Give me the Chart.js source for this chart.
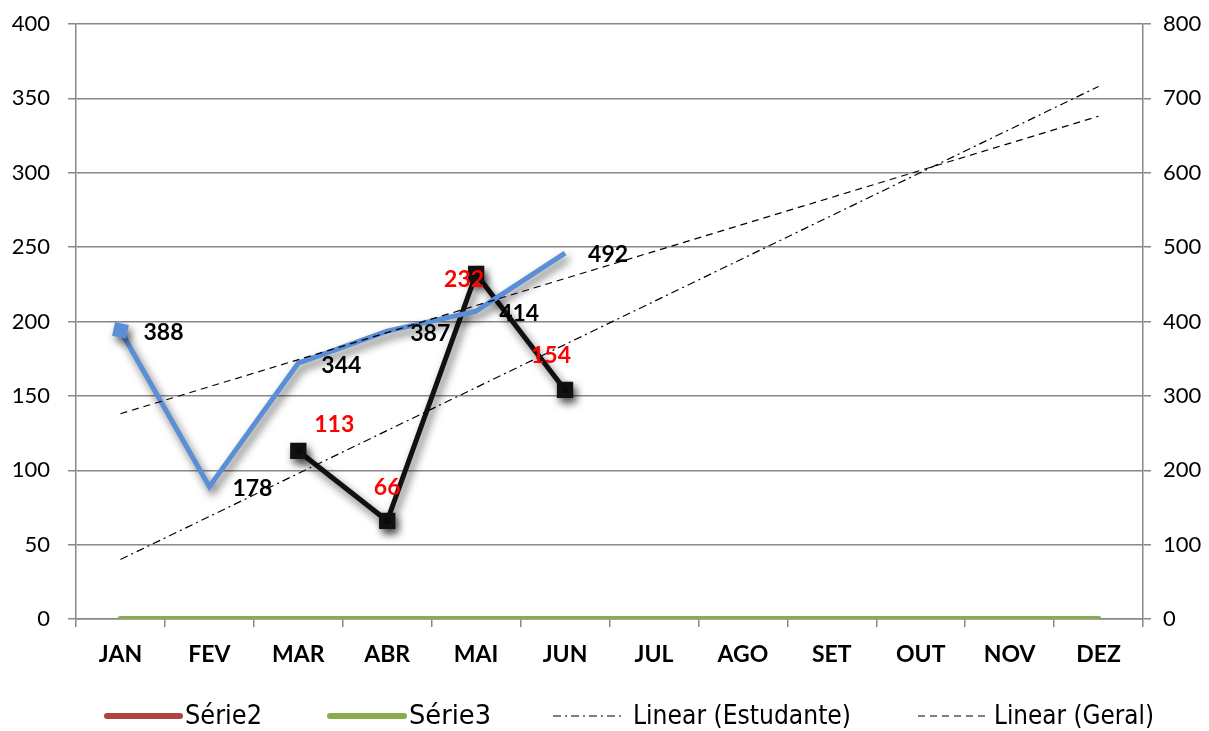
<!DOCTYPE html>
<html>
<head>
<meta charset="utf-8">
<script src="https://cdn.jsdelivr.net/npm/chart.js@4"></script>
<style>
    body { margin: 0; background: #fff; }
    .chart__wrapp { width: 1209px; height: 731px; }
</style>
</head>
<body>
<div class="chart__wrapp"><canvas id="grafic"></canvas></div>
<script>
var months = ['JAN', 'FEV', 'MAR', 'ABR', 'MAI', 'JUN', 'JUL', 'AGO', 'SET', 'OUT', 'NOV', 'DEZ'];
var geral = [388, 178, 344, 387, 414, 492, null, null, null, null, null, null];
var estudante = [null, null, 113, 66, 232, 154, null, null, null, null, null, null];
var serie2 = [0, 0, 0, 0, 0, 0, 0, 0, 0, 0, 0, 0];
var serie3 = [0, 0, 0, 0, 0, 0, 0, 0, 0, 0, 0, 0];
// trend lines, only the two ends
var trendEstudante = [40, null, null, null, null, null, null, null, null, null, null, 358];
var trendGeral = [276, null, null, null, null, null, null, null, null, null, null, 676];
var leftTicks = [0, 50, 100, 150, 200, 250, 300, 350, 400];
var rightTicks = [0, 100, 200, 300, 400, 500, 600, 700, 800];

var fontMain = 'Lato, "Open Sans", sans-serif';
var fontLegend = '"Liberation Sans Narrow", "DejaVu Sans Condensed", sans-serif';

// shadow under the two main lines
var shadowPlugin = {
    id: 'shadow',
    beforeDatasetDraw: function (chart, args) {
        var ds = chart.data.datasets[args.index];
        chart.ctx.save();
        if (ds.shadow) {
            chart.ctx.shadowColor = 'rgba(0,0,0,0.6)';
            chart.ctx.shadowBlur = 8;
            chart.ctx.shadowOffsetX = 3;
            chart.ctx.shadowOffsetY = 5;
        }
    },
    afterDatasetDraw: function (chart) {
        chart.ctx.restore();
    }
};

// value labels
var labelPlugin = {
    id: 'labels',
    afterDatasetsDraw: function (chart) {
        var ctx = chart.ctx;
        ctx.save();
        ctx.font = 'bold 23px ' + fontMain;
        ctx.textBaseline = 'middle';

        var metaG = chart.getDatasetMeta(0);
        ctx.fillStyle = '#000';
        ctx.textAlign = 'left';
        geral.forEach(function (v, i) {
            if (v === null) return;
            var p = metaG.data[i];
            ctx.fillText(v, p.x + 23, p.y + 2);
        });

        var metaE = chart.getDatasetMeta(1);
        var shift = [null, null, [36, -26], [0, -33], [-12, 6], [-14, -34]];
        ctx.fillStyle = '#ff0000';
        ctx.textAlign = 'center';
        estudante.forEach(function (v, i) {
            if (v === null) return;
            var p = metaE.data[i];
            ctx.fillText(v, p.x + shift[i][0], p.y + shift[i][1]);
        });
        ctx.restore();
    }
};

// legend at the bottom
var legendPlugin = {
    id: 'legendBottom',
    afterDraw: function (chart) {
        var ctx = chart.ctx;
        var y = 716;
        var items = [
            { text: 'Série2', color: '#b0423f', width: 6, dash: [], x1: 107, x2: 180, w: 77 },
            { text: 'Série3', color: '#8aab4d', width: 6, dash: [], x1: 330, x2: 404, w: 82 },
            { text: 'Linear (Estudante)', color: '#000', width: 1.2, dash: [8, 4, 2, 4], x1: 553, x2: 625, w: 218 },
            { text: 'Linear (Geral)', color: '#000', width: 1.2, dash: [7, 5], x1: 918, x2: 986, w: 160 }
        ];
        ctx.save();
        ctx.font = '26px ' + fontLegend;
        ctx.textBaseline = 'middle';
        ctx.textAlign = 'left';
        items.forEach(function (it) {
            ctx.beginPath();
            ctx.strokeStyle = it.color;
            ctx.lineWidth = it.width;
            ctx.lineCap = it.dash.length ? 'butt' : 'round';
            ctx.setLineDash(it.dash);
            ctx.moveTo(it.x1, y);
            ctx.lineTo(it.x2, y);
            ctx.stroke();
            ctx.setLineDash([]);
            // the legend text in the picture is a tall condensed face, so stretch it to its width
            var tx = it.x2 + (it.dash.length ? 8 : 5);
            var sx = it.w / ctx.measureText(it.text).width;
            ctx.save();
            ctx.translate(tx, y + 1);
            ctx.scale(sx, 1);
            ctx.fillStyle = '#000';
            ctx.fillText(it.text, 0, 0);
            ctx.restore();
        });
        ctx.restore();
    }
};

function fitY(width) {
    return function (scale) {
        scale.width = width;
        scale.paddingTop = 0;
        scale.paddingBottom = 0;
    };
}

var ctx = document.getElementById('grafic');
var myChart = new Chart(ctx, {
    type: 'line',
    data: {
        labels: months,
        datasets: [{
            label: 'Geral',
            data: geral,
            yAxisID: 'y2',
            borderColor: '#5a8ed6',
            backgroundColor: '#5a8ed6',
            borderWidth: 5,
            pointStyle: 'rect',
            pointRadius: [10, 0, 0, 0, 0, 0, 0, 0, 0, 0, 0, 0],
            pointBorderWidth: 0,
            pointRotation: 12,
            tension: 0,
            shadow: true,
            order: 2
        }, {
            label: 'Estudante',
            data: estudante,
            yAxisID: 'y',
            borderColor: '#111',
            backgroundColor: '#111',
            borderWidth: 5,
            pointStyle: 'rect',
            pointRadius: 8,
            tension: 0,
            shadow: true,
            order: 3
        }, {
            label: 'Série2',
            data: serie2,
            yAxisID: 'y',
            borderColor: '#b0423f',
            borderWidth: 6,
            pointRadius: 0,
            order: 5
        }, {
            label: 'Série3',
            data: serie3,
            yAxisID: 'y',
            borderColor: '#8aab4d',
            borderWidth: 6,
            borderCapStyle: 'round',
            pointRadius: 0,
            order: 4
        }, {
            label: 'Linear (Estudante)',
            data: trendEstudante,
            yAxisID: 'y',
            borderColor: '#000',
            borderWidth: 1.2,
            borderDash: [8, 4, 2, 4],
            pointRadius: 0,
            spanGaps: true,
            order: 1
        }, {
            label: 'Linear (Geral)',
            data: trendGeral,
            yAxisID: 'y2',
            borderColor: '#000',
            borderWidth: 1.2,
            borderDash: [7, 5],
            pointRadius: 0,
            spanGaps: true,
            order: 1
        }]
    },
    plugins: [shadowPlugin, labelPlugin, legendPlugin],
    options: {
        responsive: true,
        maintainAspectRatio: false,
        animation: false,
        layout: { padding: { left: 0, right: 0, top: 24, bottom: 0 } },
        plugins: {
            legend: { display: false },
            tooltip: { enabled: false }
        },
        scales: {
            x: {
                offset: true,
                afterFit: function (scale) { scale.height = 112; },
                grid: {
                    offset: true,
                    drawOnChartArea: false,
                    color: '#888',
                    lineWidth: 1.5,
                    tickLength: 8
                },
                border: { color: '#888', width: 1.5 },
                ticks: {
                    color: '#000',
                    padding: 14,
                    font: { family: fontMain, size: 23, weight: 'bold' }
                }
            },
            y: {
                position: 'left',
                min: leftTicks[0],
                max: leftTicks[leftTicks.length - 1],
                afterBuildTicks: function (scale) {
                    scale.ticks = leftTicks.map(function (v) { return { value: v }; });
                },
                afterFit: fitY(76),
                grid: { color: '#888', lineWidth: 1.5, tickLength: 8 },
                border: { color: '#888', width: 1.5 },
                ticks: {
                    color: '#000',
                    padding: 18,
                    font: { family: fontMain, size: 22 }
                }
            },
            y2: {
                position: 'right',
                min: rightTicks[0],
                max: rightTicks[rightTicks.length - 1],
                afterBuildTicks: function (scale) {
                    scale.ticks = rightTicks.map(function (v) { return { value: v }; });
                },
                afterFit: fitY(66),
                grid: { drawOnChartArea: false, color: '#888', lineWidth: 1.5, tickLength: 8 },
                border: { color: '#888', width: 1.5 },
                ticks: {
                    color: '#000',
                    padding: 12,
                    font: { family: fontMain, size: 22 }
                }
            }
        }
    }
});
</script>
</body>
</html>
